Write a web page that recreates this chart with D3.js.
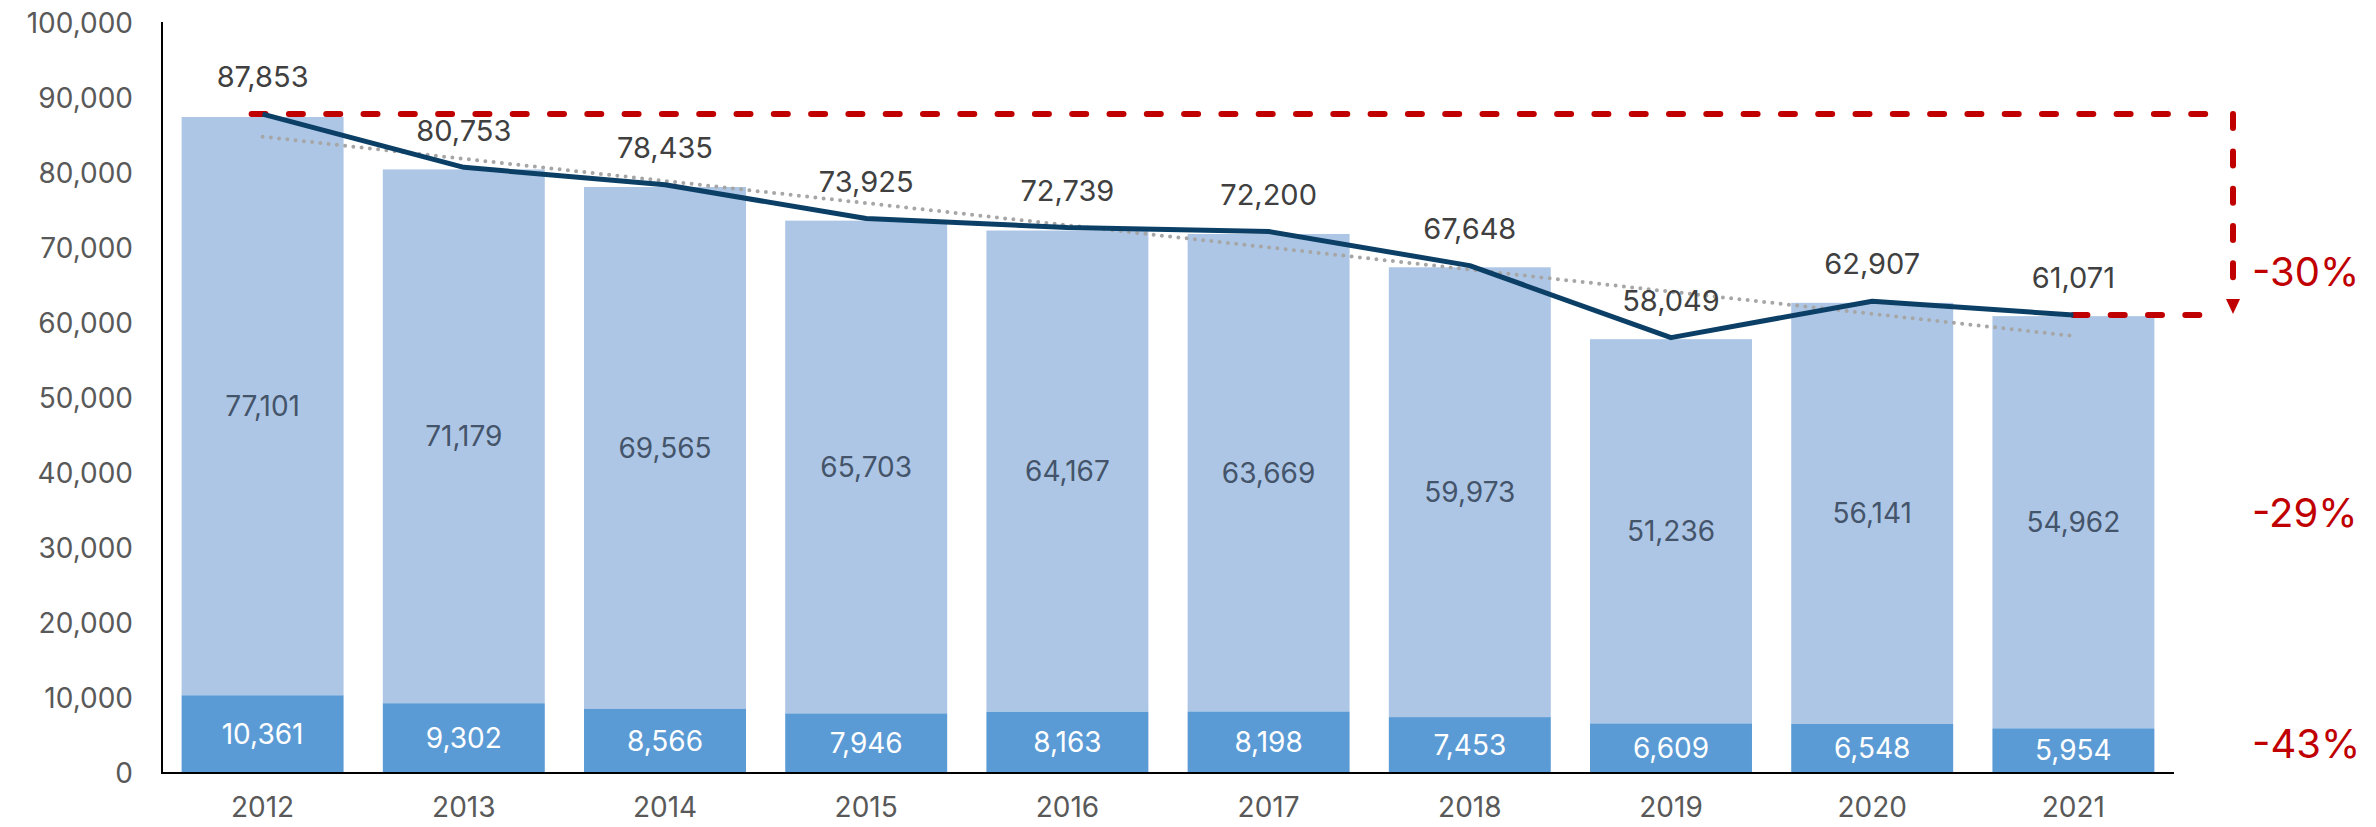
<!DOCTYPE html>
<html>
<head>
<meta charset="utf-8">
<script src="https://cdn.jsdelivr.net/npm/d3@7"></script>
<style>
    body { margin: 0; background: #fff; }
    text { font-family: Inter, "Noto Sans", sans-serif; }
</style>
</head>
<body>
<div id="chart-area"></div>
<script>
const years = ["2012", "2013", "2014", "2015", "2016", "2017", "2018", "2019", "2020", "2021"];
const totals = [87853, 80753, 78435, 73925, 72739, 72200, 67648, 58049, 62907, 61071];
const upperVals = [77101, 71179, 69565, 65703, 64167, 63669, 59973, 51236, 56141, 54962];
const lowerVals = [10361, 9302, 8566, 7946, 8163, 8198, 7453, 6609, 6548, 5954];
const yTicks = [0, 10000, 20000, 30000, 40000, 50000, 60000, 70000, 80000, 90000, 100000];
const pctLabels = ["-30%", "-29%", "-43%"];

class StackChart {
    constructor(parentelement) {
        this.parentelement = parentelement;
        this.initVis();
    }

    initVis() {
        const vis = this;

        vis.margin = { top: 23, right: 202, bottom: 54, left: 162 };
        vis.width = 2376 - vis.margin.left - vis.margin.right;
        vis.height = 827 - vis.margin.top - vis.margin.bottom;

        vis.svg = d3.select(vis.parentelement)
            .append("svg")
            .attr("width", 2376)
            .attr("height", 827)
            .append("g")
            .attr("transform", `translate(${vis.margin.left}, ${vis.margin.top})`);

        vis.x = d3.scaleBand().domain(years).range([0, vis.width]).paddingInner(0.195).paddingOuter(0.0975);
        vis.y = d3.scaleLinear().domain([0, 100000]).range([vis.height, 0]);

        const fmt = d3.format(",");
        const cx = d => vis.x(d) + vis.x.bandwidth() / 2;

        // y tick labels (no tick marks)
        vis.svg.selectAll(".ytick")
            .data(yTicks)
            .join("text")
            .attr("class", "ytick")
            .attr("x", -29)
            .attr("y", d => vis.y(d))
            .attr("dy", "0.35em")
            .attr("text-anchor", "end")
            .attr("fill", "#595959")
            .attr("font-size", 28)
            .text(d => fmt(d));

        // bars
        const rows = years.map((yr, i) => ({ yr, lo: lowerVals[i], up: upperVals[i], tot: totals[i] }));

        vis.svg.selectAll(".bar-up")
            .data(rows)
            .join("rect")
            .attr("class", "bar-up")
            .attr("x", d => vis.x(d.yr))
            .attr("width", vis.x.bandwidth())
            .attr("y", d => vis.y(d.lo + d.up))
            .attr("height", d => vis.y(d.lo) - vis.y(d.lo + d.up))
            .attr("fill", "#ADC6E5");

        vis.svg.selectAll(".bar-lo")
            .data(rows)
            .join("rect")
            .attr("class", "bar-lo")
            .attr("x", d => vis.x(d.yr))
            .attr("width", vis.x.bandwidth())
            .attr("y", d => vis.y(d.lo))
            .attr("height", d => vis.y(0) - vis.y(d.lo))
            .attr("fill", "#5B9BD5");

        // segment labels
        vis.svg.selectAll(".lbl-up")
            .data(rows)
            .join("text")
            .attr("class", "lbl-up")
            .attr("x", d => cx(d.yr))
            .attr("y", d => vis.y(d.lo + d.up / 2))
            .attr("dy", "0.35em")
            .attr("text-anchor", "middle")
            .attr("fill", "#44546A")
            .attr("font-size", 28)
            .text(d => fmt(d.up));

        vis.svg.selectAll(".lbl-lo")
            .data(rows)
            .join("text")
            .attr("class", "lbl-lo")
            .attr("x", d => cx(d.yr))
            .attr("y", d => vis.y(d.lo / 2))
            .attr("dy", "0.35em")
            .attr("text-anchor", "middle")
            .attr("fill", "#fff")
            .attr("font-size", 28)
            .text(d => fmt(d.lo));

        // linear trend of totals, least squares
        const n = totals.length;
        const mx = (n - 1) / 2;
        const my = d3.mean(totals);
        const slope = d3.sum(totals, (v, i) => (i - mx) * (v - my)) / d3.sum(totals, (v, i) => (i - mx) ** 2);
        const trend = [0, n - 1].map(i => ({ yr: years[i], v: my + slope * (i - mx) }));

        vis.svg.append("path")
            .datum(trend)
            .attr("fill", "none")
            .attr("stroke", "#A6A6A6")
            .attr("stroke-width", 4)
            .attr("stroke-linecap", "round")
            .attr("stroke-dasharray", "0 8.3")
            .attr("d", d3.line().x(d => cx(d.yr)).y(d => vis.y(d.v)));

        // red bracket: first total -> last total
        const xFirst = cx(years[0]) - 11;
        const xLast = cx(years[n - 1]);
        const yFirst = vis.y(totals[0]);
        const yLast = vis.y(totals[n - 1]);
        const xV = vis.width + 59;
        const red = "#C00000";

        vis.svg.append("path")
            .attr("fill", "none")
            .attr("stroke", red)
            .attr("stroke-width", 6)
            .attr("stroke-linecap", "round")
            .attr("stroke-dasharray", "14 23.3")
            .attr("d", `M${xFirst},${yFirst}H${xV - 20}`);

        vis.svg.append("path")
            .attr("fill", "none")
            .attr("stroke", red)
            .attr("stroke-width", 6)
            .attr("stroke-linecap", "round")
            .attr("stroke-dasharray", "14 23.3")
            .attr("d", `M${xV},${yFirst}V${yLast - 18}`);

        vis.svg.append("path")
            .attr("fill", "none")
            .attr("stroke", red)
            .attr("stroke-width", 6)
            .attr("stroke-linecap", "round")
            .attr("stroke-dasharray", "14 23.3")
            .attr("d", `M${xLast},${yLast}H${xV - 29}`);

        vis.svg.append("path")
            .attr("fill", red)
            .attr("d", `M${xV - 7},${yLast - 16}L${xV + 7},${yLast - 16}L${xV},${yLast - 1}Z`);

        // total line
        vis.svg.append("path")
            .datum(rows)
            .attr("fill", "none")
            .attr("stroke", "#0B3F66")
            .attr("stroke-width", 5)
            .attr("stroke-linejoin", "round")
            .attr("d", d3.line().x(d => cx(d.yr)).y(d => vis.y(d.tot)));

        vis.svg.selectAll(".lbl-tot")
            .data(rows)
            .join("text")
            .attr("class", "lbl-tot")
            .attr("x", d => cx(d.yr))
            .attr("y", d => vis.y(d.tot) - 37)
            .attr("dy", "0.35em")
            .attr("text-anchor", "middle")
            .attr("fill", "#404040")
            .attr("font-size", 29)
            .text(d => fmt(d.tot));

        // axes lines
        vis.svg.append("line")
            .attr("x1", 0).attr("x2", 0)
            .attr("y1", -1).attr("y2", vis.height + 1)
            .attr("stroke", "#000").attr("stroke-width", 2);

        vis.svg.append("line")
            .attr("x1", 0).attr("x2", vis.width)
            .attr("y1", vis.height).attr("y2", vis.height)
            .attr("stroke", "#000").attr("stroke-width", 2);

        vis.svg.selectAll(".xtick")
            .data(years)
            .join("text")
            .attr("class", "xtick")
            .attr("x", d => cx(d))
            .attr("y", vis.height + 44)
            .attr("text-anchor", "middle")
            .attr("fill", "#595959")
            .attr("font-size", 28)
            .text(d => d);

        // percent change labels
        const pctY = [vis.y(totals[0]) + 158, 490, 721];
        vis.svg.selectAll(".pct")
            .data(pctLabels)
            .join("text")
            .attr("class", "pct")
            .attr("x", vis.width + 78)
            .attr("y", (d, i) => pctY[i])
            .attr("dy", "0.35em")
            .attr("fill", red)
            .attr("font-size", 40)
            .text(d => d);
    }
}

new StackChart("#chart-area");
</script>
</body>
</html>
